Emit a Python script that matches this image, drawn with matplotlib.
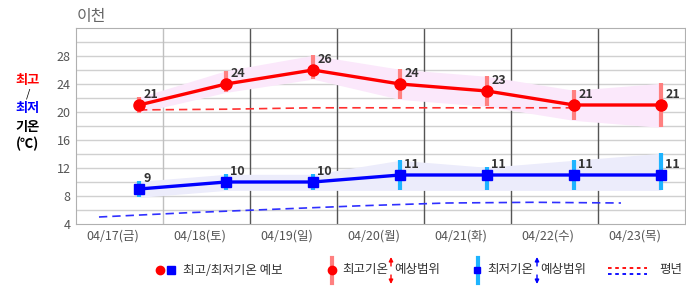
import numpy as np
import matplotlib
matplotlib.use('Agg')
import matplotlib.pyplot as plt
from matplotlib.lines import Line2D
from matplotlib.patches import FancyArrowPatch

plt.rcParams['font.family'] = ['Noto Sans CJK KR', 'DejaVu Sans']

days = ['04/17(금)', '04/18(토)', '04/19(일)', '04/20(월)', '04/21(화)', '04/22(수)', '04/23(목)']
tmax = [21, 24, 26, 24, 23, 21, 21]
tmax_hi = [22.1, 25.9, 28.1, 26.1, 25.1, 23.1, 24.1]
tmax_lo = [19.9, 22.8, 24.7, 21.8, 20.8, 18.8, 17.8]
tmin = [9, 10, 10, 11, 11, 11, 11]
tmin_hi = [10.1, 11.1, 11.1, 13.1, 12.1, 13.1, 14.1]
tmin_lo = [7.8, 8.8, 8.8, 8.8, 8.8, 8.8, 8.8]
normal_max = [20.3, 20.4, 20.6, 20.6, 20.6, 20.6]
normal_min = [5.0, 5.6, 6.1, 6.6, 7.0, 7.1, 7.0]

W, H = 686, 295
fig = plt.figure(figsize=(W / 100, H / 100), dpi=100)
ax = fig.add_axes([76 / W, 1 - 224 / H, (685 - 76) / W, (224 - 28) / H])

x = np.arange(len(days)) + 0.724      # forecast time within day
xn_min = np.arange(len(normal_min)) + 0.264
xn_max = np.arange(len(normal_max)) + 0.724

ax.set_xlim(0, 7)
ax.set_ylim(4, 32)
for y in range(6, 32, 2):
    ax.axhline(y, color='#d0d0d0', lw=1, zorder=0)
for d in range(1, 7):
    ax.axvline(d, color='#c0c0c0' if d == 1 else '#555555', lw=1, zorder=0)

# bands
ax.fill_between(x, tmax_lo, tmax_hi, color='#fbe8fb', lw=0, zorder=1)
ax.fill_between(x, tmin_lo, tmin_hi, color='#ececfb', lw=0, zorder=1)

# normals
ax.plot(xn_max, normal_max, color='#ff3030', lw=1.2, ls=(0, (5, 3)), zorder=2)
ax.plot(xn_min, normal_min, color='#3030ff', lw=1.2, ls=(0, (5, 3)), zorder=2)

# range bars
ax.vlines(x, tmax_lo, tmax_hi, color='#ff8080', lw=3, zorder=3)
ax.vlines(x, tmin_lo, tmin_hi, color='#1eb4ff', lw=3, zorder=3)

ax.plot(x, tmax, color='#ff0000', lw=2.4, marker='o', ms=8, zorder=4)
ax.plot(x, tmin, color='#0000ff', lw=2.4, marker='s', ms=7.5, zorder=4)

for xi, v in zip(x, tmax):
    ax.annotate(str(v), (xi, v), xytext=(3, 3), textcoords='offset points',
                ha='left', va='bottom', fontsize=9, fontweight='bold', color='#333333', zorder=5)
for xi, v in zip(x, tmin):
    ax.annotate(str(v), (xi, v), xytext=(3, 3), textcoords='offset points',
                ha='left', va='bottom', fontsize=9, fontweight='bold', color='#333333', zorder=5)

ax.set_yticks(range(4, 32, 4))
ax.set_xticks(np.arange(len(days)) + 0.425)
ax.set_xticklabels(days)
ax.tick_params(length=0, labelsize=9, labelcolor='#555555', pad=4)
for s in ax.spines.values():
    s.set_color('#b0b0b0')

fig.text(77 / W, 1 - 16 / H, '이천', fontsize=11.5, color='#666666', va='center', ha='left')

# y-axis caption
def ftxt(px, py, s, c, **kw):
    fig.text(px / W, 1 - py / H, s, color=c, ha='center', va='center', **kw)

ftxt(28, 80, '최고', '#ff0000', fontsize=9.5, fontweight='bold')
ftxt(28, 94, '/', '#000000', fontsize=8)
ftxt(28, 108, '최저', '#0000ff', fontsize=9.5, fontweight='bold')
ftxt(28, 127, '기온', '#000000', fontsize=9.5, fontweight='bold')
ftxt(28, 144, '(℃)', '#000000', fontsize=9.5, fontweight='bold')

# legend (figure pixels)
def fl(xs, ys, **kw):
    fig.add_artist(Line2D([p / W for p in xs], [1 - p / H for p in ys], transform=fig.transFigure, **kw))

def farrow(px, y0, y1, c):
    fig.add_artist(FancyArrowPatch((px / W, 1 - y0 / H), (px / W, 1 - y1 / H),
                   transform=fig.transFigure, arrowstyle='-|>', mutation_scale=6,
                   shrinkA=0, shrinkB=0, color=c, lw=1))

ly = 270
fl([160], [ly], marker='o', ms=6, color='#ff0000', ls='none')
fl([171], [ly], marker='s', ms=6, color='#0000ff', ls='none')
fig.text(183 / W, 1 - ly / H, '최고/최저기온 예보', fontsize=9, color='#333333', va='center')

fl([332, 332], [258, 283], color='#ff8080', lw=3)
fl([332], [ly], marker='o', ms=6, color='#ff0000', ls='none')
fig.text(342 / W, 1 - ly / H, '최고기온', fontsize=9, color='#333333', va='center')
farrow(391, 266, 257, '#ff0000')
farrow(391, 275, 284, '#ff0000')
fig.text(394 / W, 1 - ly / H, '예상범위', fontsize=9, color='#333333', va='center')

fl([478, 478], [258, 283], color='#1eb4ff', lw=3)
fl([476.5], [ly], marker='s', ms=5, color='#0000ff', ls='none')
fig.text(487 / W, 1 - ly / H, '최저기온', fontsize=9, color='#333333', va='center')
farrow(537, 266, 257, '#0000ff')
farrow(537, 275, 284, '#0000ff')
fig.text(540 / W, 1 - ly / H, '예상범위', fontsize=9, color='#333333', va='center')

fl([608, 647], [268, 268], color='#ff0000', lw=1.3, ls=(0, (2, 2)))
fl([608, 647], [274, 274], color='#0000ff', lw=1.3, ls=(0, (2, 2)))
fig.text(659 / W, 1 - ly / H, '평년', fontsize=9, color='#333333', va='center')

fig.savefig('out.png', dpi=100)
